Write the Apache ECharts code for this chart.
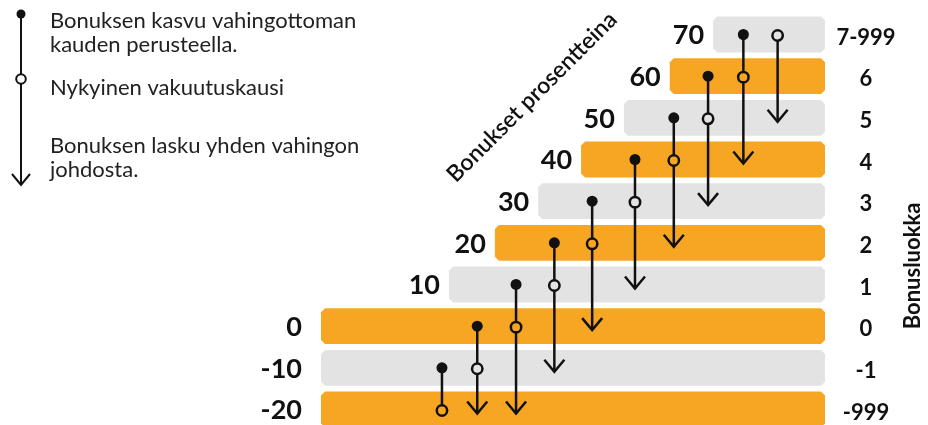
<!DOCTYPE html>
<html>
<head>
<meta charset="utf-8">
<script src="https://cdn.jsdelivr.net/npm/echarts@6/dist/echarts.min.js"></script>
<style>
  html, body { margin: 0; padding: 0; background: #fff; }
  #chart { width: 928px; height: 425px; }
</style>
</head>
<body>
<div id="chart"></div>
<script>
// bonus levels (percent) and classes, bottom row first
var levels = [-20, -10, 0, 10, 20, 30, 40, 50, 60, 70];
var classes = ['-999', '-1', '0', '1', '2', '3', '4', '5', '6', '7-999'];
// where each band starts on the x scale (band always ends at 100)
var bandStart = [0, 0, 0, 25.4, 34.5, 43.1, 51.6, 60.1, 69.2, 77.8];

// one column per current period
var colX = [24, 31, 38.7, 46.3, 53.8, 62.3, 70, 76.8, 83.8, 90.6];
var currentLevel = [-20, -10, 0, 10, 20, 30, 40, 50, 60, 70];
var noClaimLevel = [-10, 0, 10, 20, 30, 40, 50, 60, 70, null];
var oneClaimLevel = [null, -20, -20, -10, 0, 10, 20, 30, 40, 50];

var ORANGE = '#F6A623', GREY = '#E3E3E3', INK = '#111';
var FONT = 'Lato, "Open Sans", sans-serif';

function rowColor(level) {
    return levels.indexOf(level) % 2 === 0 ? ORANGE : GREY;
}

var chart = echarts.init(document.getElementById('chart'));

function renderBand(params, api) {
    var start = api.value(0), end = api.value(1), level = api.value(2), idx = api.value(3);
    var p0 = api.coord([start, level]);
    var p1 = api.coord([end, level]);
    var h = api.size([0, 10])[1] * 0.86;
    var c = 4, top = p0[1] - h / 2, bot = p0[1] + h / 2, l = p0[0], r = p1[0];
    var gap = start > 0 ? 9 : 19;
    return {
        type: 'group',
        children: [{
            type: 'polygon',
            shape: { points: [[l + c, top], [r - c, top], [r, top + c], [r, bot - c], [r - c, bot], [l + c, bot], [l, bot - c], [l, top + c]] },
            style: { fill: rowColor(level) }
        }, {
            type: 'text',
            style: { x: l - gap, y: p0[1] + 1, text: String(level), font: 'bold 27px ' + FONT, fill: INK, align: 'right', verticalAlign: 'middle' }
        }, {
            type: 'text',
            style: { x: r + 41, y: p0[1] + 3, text: classes[idx], font: 'bold 22px ' + FONT, fill: INK, align: 'center', verticalAlign: 'middle' }
        }]
    };
}

function renderColumn(params, api) {
    var i = api.value(0);
    var x = colX[i];
    var cur = api.coord([x, currentLevel[i]]);
    var px = cur[0];
    var children = [];
    var topY = cur[1], botY = cur[1];
    var dot = null, arrow = null;
    if (noClaimLevel[i] !== null) {
        dot = api.coord([x, noClaimLevel[i]]);
        topY = dot[1];
    }
    if (oneClaimLevel[i] !== null) {
        arrow = api.coord([x, oneClaimLevel[i]]);
        arrow[1] += 4;
        botY = arrow[1];
    }
    children.push({ type: 'line', shape: { x1: px, y1: topY, x2: px, y2: botY }, style: { stroke: INK, lineWidth: 2.5 } });
    if (arrow) {
        children.push({ type: 'polyline', shape: { points: [[px - 10, botY - 12], [px, botY], [px + 10, botY - 12]] }, style: { stroke: INK, lineWidth: 2.5, fill: null } });
    }
    if (dot) {
        children.push({ type: 'circle', shape: { cx: px, cy: topY, r: 5.5 }, style: { fill: INK } });
    }
    children.push({ type: 'circle', shape: { cx: px, cy: cur[1] + 1, r: 5.2 }, style: { fill: rowColor(currentLevel[i]), stroke: INK, lineWidth: 2.5 } });
    return { type: 'group', children: children };
}

var bandData = levels.map(function (lv, i) { return [bandStart[i], 100, lv, i]; });
var colData = colX.map(function (x, i) { return [i]; });

var legendLines = [
    ['Bonuksen kasvu vahingottoman', 21],
    ['kauden perusteella.', 45],
    ['Nykyinen vakuutuskausi', 88],
    ['Bonuksen lasku yhden vahingon', 146],
    ['johdosta.', 170]
];

var graphics = legendLines.map(function (t) {
    return { type: 'text', x: 50, y: t[1], style: { text: t[0], font: '22px ' + FONT, fill: '#222', align: 'left', verticalAlign: 'middle' } };
});
graphics.push(
    { type: 'line', shape: { x1: 21, y1: 14, x2: 21, y2: 185 }, style: { stroke: INK, lineWidth: 2 } },
    { type: 'polyline', shape: { points: [[12, 174], [21, 185], [30, 174]] }, style: { stroke: INK, lineWidth: 2, fill: null } },
    { type: 'circle', shape: { cx: 21, cy: 14, r: 4.5 }, style: { fill: INK } },
    { type: 'circle', shape: { cx: 21, cy: 79, r: 4.8 }, style: { fill: '#fff', stroke: INK, lineWidth: 2 } },
    { type: 'text', x: 532, y: 97, rotation: Math.PI / 4, style: { text: 'Bonukset prosentteina', font: '600 23px ' + FONT, fill: INK, align: 'center', verticalAlign: 'middle' } },
    { type: 'text', x: 913, y: 266, rotation: Math.PI / 2, style: { text: 'Bonusluokka', font: 'bold 22px ' + FONT, fill: INK, align: 'center', verticalAlign: 'middle' } }
);

chart.setOption({
    animation: false,
    grid: { left: 321, right: 103, top: 9.5, bottom: 7.2 },
    xAxis: { type: 'value', min: 0, max: 100, show: false },
    yAxis: { type: 'value', min: -22, max: 76, show: false },
    graphic: graphics,
    series: [{
        type: 'custom',
        clip: false,
        renderItem: renderBand,
        data: bandData,
        z: 1
    }, {
        type: 'custom',
        clip: false,
        renderItem: renderColumn,
        data: colData,
        z: 2
    }]
});
</script>
</body>
</html>
